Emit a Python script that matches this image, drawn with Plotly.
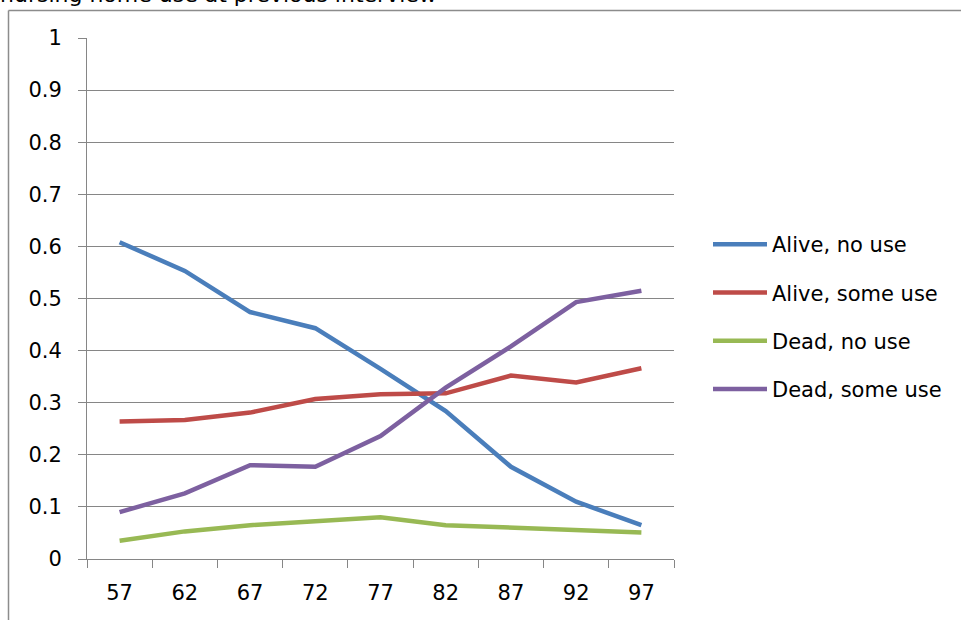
import plotly.graph_objects as go

# Age at interview (category axis)
ages = ["57", "62", "67", "72", "77", "82", "87", "92", "97"]

# Outcome proportions by age
alive_no_use = [0.608, 0.553, 0.474, 0.443, 0.365, 0.284, 0.177, 0.110, 0.065]
alive_some_use = [0.264, 0.267, 0.281, 0.307, 0.316, 0.318, 0.352, 0.339, 0.366]
dead_no_use = [0.035, 0.053, 0.065, 0.072, 0.080, 0.065, 0.061, 0.056, 0.051]
dead_some_use = [0.090, 0.126, 0.180, 0.177, 0.236, 0.329, 0.408, 0.493, 0.515]

series_names = ["Alive, no use", "Alive, some use", "Dead, no use", "Dead, some use"]
series_values = [alive_no_use, alive_some_use, dead_no_use, dead_some_use]
series_colors = ["#4A7EBB", "#BE4B48", "#98B954", "#7D60A0"]

y_ticks = [0, 0.1, 0.2, 0.3, 0.4, 0.5, 0.6, 0.7, 0.8, 0.9, 1]
y_tick_text = ["0", "0.1", "0.2", "0.3", "0.4", "0.5", "0.6", "0.7", "0.8", "0.9", "1"]

FONT = "DejaVu Sans"
AXIS_GREY = "#868686"

fig = go.Figure()
for i, (name, vals, col) in enumerate(zip(series_names, series_values, series_colors)):
    fig.add_trace(go.Scatter(
        x=ages, y=vals, name=name, mode="lines",
        line=dict(color=col, width=4.5),
        legendgroup=f"g{i}",
    ))

# plot area geometry in pixels
L, R, T, B = 87, 674, 38, 559
W, H = 961, 620

def px_x(px):
    return (px - L) / (R - L)

def px_y(py):
    return (B - py) / (B - T)

fig.update_layout(
    width=W, height=H,
    margin=dict(l=L, r=W - R, t=T, b=H - B),
    paper_bgcolor="white", plot_bgcolor="white",
    font=dict(family=FONT, size=21, color="#000000"),
    showlegend=True,
    legend=dict(
        x=px_x(708), y=px_y(224), xanchor="left", yanchor="top",
        font=dict(family=FONT, size=21, color="#000000"),
        traceorder="grouped", tracegroupgap=18,
        itemwidth=54, bgcolor="rgba(0,0,0,0)",
    ),
    xaxis=dict(
        type="category", range=[-0.5, 8.5],
        showgrid=False, showline=True, linecolor=AXIS_GREY, linewidth=1,
        ticks="outside", ticklen=8, tickcolor=AXIS_GREY, tickwidth=1,
        tickson="boundaries", ticklabelstandoff=15,
        tickfont=dict(family=FONT, size=21, color="#000000"),
        zeroline=False,
    ),
    yaxis=dict(
        range=[0, 1], tickvals=y_ticks, ticktext=y_tick_text,
        showgrid=True, gridcolor=AXIS_GREY, gridwidth=1,
        showline=True, linecolor=AXIS_GREY, linewidth=1,
        ticks="outside", ticklen=8, tickcolor=AXIS_GREY, tickwidth=1,
        ticklabelstandoff=12,
        tickfont=dict(family=FONT, size=21, color="#000000"),
        zeroline=False,
    ),
    shapes=[
        # chart-area frame (left and top edges)
        dict(type="line", xref="paper", yref="paper",
             x0=px_x(8.5), x1=px_x(8.5), y0=px_y(10.5), y1=px_y(625),
             line=dict(color="#8C8C8C", width=1.5)),
        dict(type="line", xref="paper", yref="paper",
             x0=px_x(8.5), x1=px_x(970), y0=px_y(10.5), y1=px_y(10.5),
             line=dict(color="#8C8C8C", width=1.5)),
    ],
    annotations=[
        dict(text="nursing home use at previous interview",
             xref="paper", yref="paper", x=px_x(-2), y=px_y(9),
             xanchor="left", yanchor="bottom", showarrow=False,
             font=dict(family=FONT, size=22, color="#000000")),
    ],
)

fig.write_html("out.html")
